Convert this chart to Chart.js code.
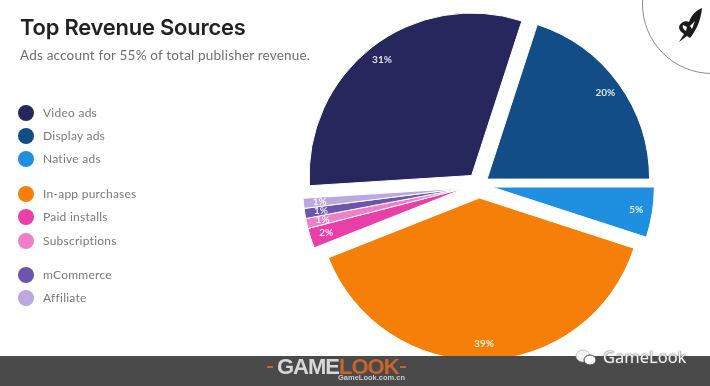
<!DOCTYPE html>
<html>
<head>
<meta charset="utf-8">
<title>Top Revenue Sources</title>
<script src="https://cdn.jsdelivr.net/npm/chart.js@4"></script>
<style>
  html, body { margin: 0; padding: 0; background: #fff; }
  body { width: 710px; height: 386px; position: relative; overflow: hidden; font-family: Lato, "Open Sans", sans-serif; }
  #chart { position: absolute; left: 0; top: 0; }
  h1 { position: absolute; left: 20px; top: 13px; margin: 0; font: 600 21.9px/28px Inter, sans-serif; color: #222; letter-spacing: -0.2px; }
  .sub { position: absolute; left: 20px; top: 46px; font: 400 13.5px/18px Lato, sans-serif; color: #6f6f6f; letter-spacing: 0.2px; }
  #legend { position: absolute; left: 18px; top: 101px; }
  .row { height: 23.4px; display: flex; align-items: center; font: 400 12px/16px Lato, sans-serif; color: #7a7a7a; letter-spacing: 0.25px; }
  .row.gap { margin-top: 11px; }
  .dot { width: 16px; height: 16px; border-radius: 50%; margin-right: 9px; }
  .ring { position: absolute; left: 642px; top: -66px; width: 140px; height: 140px; border: 1.5px solid #8a8a98; border-radius: 50%; box-sizing: border-box; }
  .rocket { position: absolute; left: 677px; top: 7px; }
  .band { position: absolute; left: 0; top: 356px; width: 710px; height: 30px; background: #4a4a4a; }
  .logo { position: absolute; left: 277px; top: 354px; font: 900 22px/26px "Liberation Sans", sans-serif; color: #d8d8d8; letter-spacing: -1px; }
  .logo span { color: #c9642a; }
  .tick { position: absolute; top: 366px; width: 6px; height: 2px; background: #c9642a; }
  .logo-url { position: absolute; left: 338px; top: 373px; font: 700 7.5px/10px "Liberation Sans", sans-serif; color: #ccc; }
  .wx { position: absolute; left: 603px; top: 347px; font: 400 16.5px/20px "Noto Sans", sans-serif; color: #f2f2f2; text-shadow: 0 0 2px #666, 0 0 1px #666; }
  .wx-icon { position: absolute; left: 574px; top: 348px; }
</style>
</head>
<body>
<canvas id="chart" width="710" height="386"></canvas>
<h1>Top Revenue Sources</h1>
<div class="sub">Ads account for 55% of total publisher revenue.</div>
<div id="legend"></div>
<div class="ring"></div>
<svg class="rocket" width="26" height="36" viewBox="0 0 26 36">
  <path d="M25 1 C19 3 14 9 12 15 C8 13 3 16 2 20 C2 23 4 25 7 27 L2 35 L10 29 L13 31 C19 24 24 13 25 1 Z M6 18 C5 20 6 22 9 24 L10 20 Z M13 19 L15 22 L18 14 Z" fill="#1c1c1c" fill-rule="evenodd"/>
</svg>
<div class="band"></div>
<div class="tick" style="left:267px"></div>
<div class="logo">GAME<span>LOOK</span></div>
<div class="tick" style="left:400px"></div>
<div class="logo-url">GameLook.com.cn</div>
<svg class="wx-icon" width="24" height="20" viewBox="0 0 24 20">
  <ellipse cx="9" cy="8" rx="7" ry="6" fill="#f2f2f2" stroke="#999" stroke-width="0.5"/>
  <ellipse cx="16" cy="12" rx="6" ry="5" fill="#fff" stroke="#4a4a4a"/>
</svg>
<div class="wx">GameLook</div>
<script>
const categories = ['Video ads', 'Display ads', 'Native ads', 'In-app purchases', 'Paid installs', 'Subscriptions', 'mCommerce', 'Affiliate'];
const shares = [31, 20, 5, 39, 2, 1, 1, 1];
const sliceColors = ['#26275c', '#134d88', '#1f8fe0', '#f57f09', '#e93fa8', '#ee7fc8', '#6d55ad', '#b9a9de'];
const sliceShifts = [12, 10, 13, 13, 14, 14, 14, 14];
// slices that leave the pie together as one wedge
const sliceGroups = [0, 1, 2, 3, 4, 4, 4, 4];
const groupStarts = ['In-app purchases', 'mCommerce'];

const legend = document.getElementById('legend');
categories.forEach(function (name, i) {
  const row = document.createElement('div');
  row.className = groupStarts.includes(name) ? 'row gap' : 'row';
  const dot = document.createElement('div');
  dot.className = 'dot';
  dot.style.background = sliceColors[i];
  row.appendChild(dot);
  row.appendChild(document.createTextNode(name));
  legend.appendChild(row);
});

// direction a slice moves in: the middle of its whole group
function groupAngle(arcs, i) {
  const members = arcs.filter(function (arc, j) { return sliceGroups[j] === sliceGroups[i]; });
  return (members[0].startAngle + members[members.length - 1].endAngle) / 2;
}

// the built-in offset option changes the slice radius too, so pull the arcs out here
const explode = {
  id: 'explode',
  beforeDatasetDraw(chart, args) {
    const ctx = chart.ctx;
    args.meta.data.forEach(function (arc, i) {
      const mid = groupAngle(args.meta.data, i);
      ctx.save();
      ctx.translate(Math.cos(mid) * sliceShifts[i], Math.sin(mid) * sliceShifts[i]);
      arc.draw(ctx);
      ctx.restore();
    });
    return false;
  }
};

// percent labels sit near the rim of each slice
const sliceLabels = {
  id: 'sliceLabels',
  afterDatasetsDraw(chart) {
    const ctx = chart.ctx;
    const arcs = chart.getDatasetMeta(0).data;
    ctx.save();
    ctx.font = '700 10px Lato, sans-serif';
    ctx.textAlign = 'center';
    ctx.textBaseline = 'middle';
    ctx.fillStyle = 'rgba(255,255,255,0.85)';
    arcs.forEach(function (arc, i) {
      const mid = (arc.startAngle + arc.endAngle) / 2;
      const out = groupAngle(arcs, i);
      const r = arc.outerRadius * 0.9;
      ctx.fillText(shares[i] + '%',
        arc.x + Math.cos(out) * sliceShifts[i] + Math.cos(mid) * r,
        arc.y + Math.sin(out) * sliceShifts[i] + Math.sin(mid) * r);
    });
    ctx.restore();
  }
};

new Chart(document.getElementById('chart'), {
  type: 'pie',
  data: {
    labels: categories,
    datasets: [{
      data: shares,
      backgroundColor: sliceColors,
      borderColor: '#fff',
      borderWidth: 1
    }]
  },
  options: {
    responsive: false,
    animation: false,
    rotation: 266.4,
    layout: { padding: { left: 316, right: 68, top: 22, bottom: 38 } },
    plugins: { legend: { display: false }, tooltip: { enabled: false } }
  },
  plugins: [explode, sliceLabels]
});
</script>
</body>
</html>
